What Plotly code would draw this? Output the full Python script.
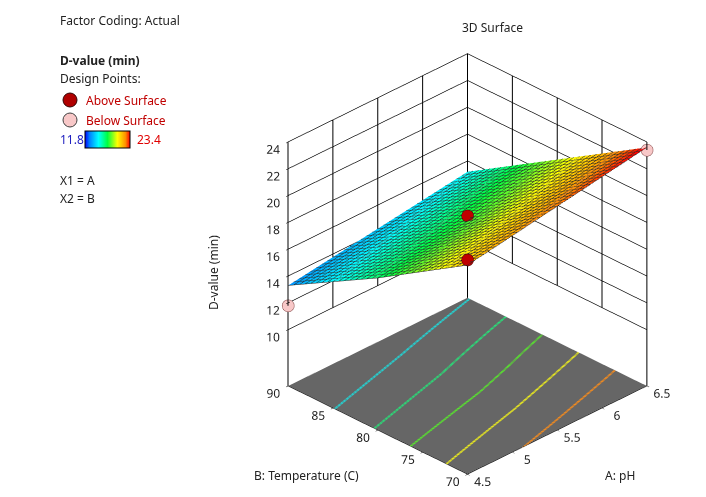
import plotly.graph_objects as go

# valores (superficie de respuesta D-value)
ph = [4.5, 5.5, 6.5]
temperatura = [70, 80, 90]
dvalue = [[21.4, 22.5, 23.6],    # T = 70
          [17.15, 18.1, 19.4],   # T = 80
          [13.3, 14.25, 15.2]]   # T = 90

# puntos de diseño
ph_sobre = [5.5, 4.5]
temp_sobre = [80, 70]
dv_sobre = [18.5, 21.8]
ph_bajo = [4.5, 6.5]
temp_bajo = [90, 70]
dv_bajo = [11.8, 23.4]

dv_min, dv_max = 11.8, 23.4
niveles = [15.3, 17.0, 18.7, 20.4, 22.1]
colores_niveles = ['#20d8d8', '#28e078', '#58e030', '#e8e820', '#f08a20']
ticks_ph = [4.5, 5, 5.5, 6, 6.5]
ticks_temp = [70, 75, 80, 85, 90]
ticks_z = [10, 12, 14, 16, 18, 20, 22, 24]
z_piso = 5.8

escala = [[0, '#0000ff'], [0.1, '#0080ff'], [0.3, '#00ffff'], [0.5, '#00ff40'],
          [0.72, '#ffff00'], [0.9, '#ff9000'], [1, '#ff0000']]

fig = go.Figure()

fig.add_trace(go.Surface(
    x=ph, y=temperatura, z=dvalue,
    colorscale=escala, cmin=dv_min, cmax=dv_max,
    showscale=True,
    colorbar=dict(orientation='h', x=77/706, xanchor='left', y=1-132/497, yanchor='middle',
                  len=45, lenmode='pixels', thickness=17, showticklabels=False, ticks='',
                  outlinewidth=1, outlinecolor='black', xpad=0, ypad=0),
    lighting=dict(ambient=0.9, diffuse=0.3, specular=0.05, roughness=0.9),
    contours=dict(
        x=dict(show=True, start=4.5, end=6.5, size=2/32, color='#2a2a2a', width=1, highlight=False),
        y=dict(show=True, start=70, end=90, size=20/32, color='#2a2a2a', width=1, highlight=False),
        z=dict(highlight=False),
    ),
    hoverinfo='skip',
))

# curvas de nivel proyectadas sobre el piso (tres trazos juntos para engrosar la linea)
for nivel, col in zip(niveles, colores_niveles):
    fig.add_trace(go.Surface(
        x=ph, y=temperatura, z=dvalue, hidesurface=True, showscale=False,
        contours=dict(z=dict(show=True, start=nivel - 0.03, end=nivel + 0.035, size=0.03, color=col,
                             width=2, project=dict(z=True), highlight=False),
                      x=dict(highlight=False), y=dict(highlight=False)),
        hoverinfo='skip',
    ))

# lineas de las paredes
paredes_x, paredes_y, paredes_z = [], [], []
for p in ticks_ph:
    z0 = z_piso if p in (ticks_ph[0], ticks_ph[-1]) else ticks_z[0]
    paredes_x += [p, p, None]
    paredes_y += [ticks_temp[-1], ticks_temp[-1], None]
    paredes_z += [z0, ticks_z[-1], None]
for t in ticks_temp:
    z0 = z_piso if t in (ticks_temp[0], ticks_temp[-1]) else ticks_z[0]
    paredes_x += [ticks_ph[-1], ticks_ph[-1], None]
    paredes_y += [t, t, None]
    paredes_z += [z0, ticks_z[-1], None]
fig.add_trace(go.Scatter3d(x=paredes_x, y=paredes_y, z=paredes_z, mode='lines',
                           line=dict(color='black', width=2), hoverinfo='skip', showlegend=False))

fig.add_trace(go.Scatter3d(x=ph_sobre, y=temp_sobre, z=dv_sobre, mode='markers',
                           marker=dict(size=7, color='#c00000', line=dict(color='#400000', width=1)),
                           showlegend=False))
fig.add_trace(go.Scatter3d(x=ph_bajo, y=temp_bajo, z=dv_bajo, mode='markers',
                           marker=dict(size=7, color='#f8c8c8', line=dict(color='#804040', width=1)),
                           showlegend=False))

eje = dict(showgrid=False, zeroline=False, showbackground=False, showspikes=False,
           ticks='outside', ticklen=3, tickcolor='black', showline=True, linecolor='black',
           tickangle=0, tickfont=dict(family='Noto Sans', size=12, color='#222'),
           title=dict(text=''))

fig.update_layout(
    width=706, height=497, margin=dict(l=0, r=0, t=0, b=0),
    paper_bgcolor='white', font=dict(family='Noto Sans', size=12, color='#222'),
    scene=dict(
        domain=dict(x=[0.3065, 0.9965], y=[0.037, 0.931]),
        xaxis=dict(eje, range=[4.5, 6.5], tickvals=ticks_ph, ticktext=['4.5', '5', '5.5', '6', '6.5']),
        yaxis=dict(eje, range=[70, 90], tickvals=ticks_temp),
        zaxis=dict(eje, range=[z_piso, 24], tickvals=ticks_z, showgrid=True, gridcolor='black',
                   gridwidth=1.5, showbackground=True, backgroundcolor='#666666'),
        aspectmode='manual', aspectratio=dict(x=1.143, y=1.143, z=1.263),
        camera=dict(eye=dict(x=-1.087, y=-1.087, z=0.869), center=dict(x=0, y=0, z=0),
                    projection=dict(type='orthographic')),
    ),
)

anot = [
    ('Factor Coding: Actual', 50, 12, '#222'),
    ('<b>D-value (min)</b>', 50, 52, '#222'),
    ('Design Points:', 50, 71, '#222'),
    ('Above Surface', 76, 92, '#c00000'),
    ('Below Surface', 76, 112, '#c00000'),
    ('11.8', 50, 131, '#2020c0'),
    ('23.4', 127, 131, '#e00000'),
    ('X1 = A', 50, 172, '#222'),
    ('X2 = B', 50, 191, '#222'),
]
for texto, px, py, col in anot:
    fig.add_annotation(text=texto, x=px/706, y=1-py/497, xref='paper', yref='paper',
                       xanchor='left', yanchor='middle', showarrow=False,
                       font=dict(size=12, color=col))

titulos = [
    ('3D Surface', 484, 19, 0),
    ('B: Temperature (C)', 298, 467, 0),
    ('A: pH', 612, 467, 0),
    ('D-value (min)', 205, 265, -90),
]
for texto, px, py, ang in titulos:
    fig.add_annotation(text=texto, x=px/706, y=1-py/497, xref='paper', yref='paper',
                       xanchor='center', yanchor='middle', showarrow=False, textangle=ang,
                       font=dict(size=12, color='#222'))

# marcadores de la leyenda
fig.add_shape(type='circle', xref='paper', yref='paper',
              x0=55/706, x1=69/706, y0=1-99/497, y1=1-85/497,
              fillcolor='#b00000', line=dict(color='#300000', width=1))
fig.add_shape(type='circle', xref='paper', yref='paper',
              x0=55/706, x1=69/706, y0=1-119/497, y1=1-105/497,
              fillcolor='#f8c8c8', line=dict(color='#404040', width=1))

fig.write_html("out.html")
